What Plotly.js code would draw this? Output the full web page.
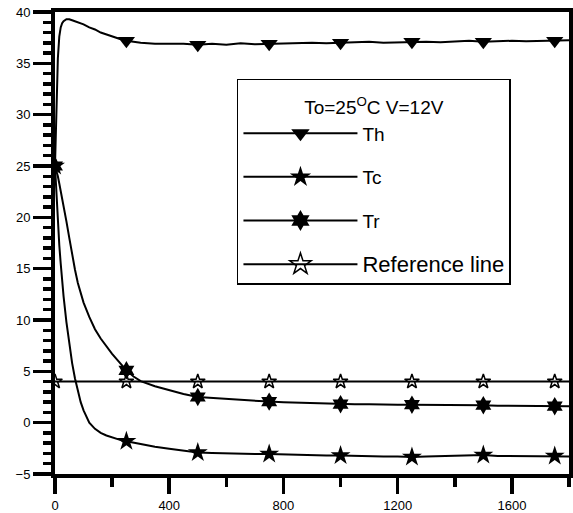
<!DOCTYPE html>
<html>
<head>
<meta charset="utf-8">
<script src="https://cdn.plot.ly/plotly-3.0.1.min.js"></script>
<style>html,body{margin:0;padding:0;background:#fff;}#chart{width:573px;height:513px;}</style>
</head>
<body>
<div id="chart"></div>
<script>
// time axis for the measured curves (s)
var t = [0,5,10,15,20,25,30,40,50,60,70,80,90,100,120,140,160,180,200,225,250,275,300,350,400,450,500,550,600,650,700,750,800,850,900,950,1000,1050,1100,1150,1200,1250,1300,1350,1400,1450,1500,1550,1600,1650,1700,1750,1800];
var Th = [25,31.5,35.5,37.6,38.5,38.9,39.1,39.3,39.3,39.2,39.1,39.0,38.9,38.8,38.5,38.3,38.0,37.8,37.6,37.4,37.2,37.1,37.0,36.9,36.9,36.9,36.8,36.9,36.8,36.95,36.85,36.9,36.9,36.95,37.0,36.95,37.0,37.05,37.1,37.0,37.05,37.1,37.1,37.05,37.1,37.2,37.1,37.15,37.2,37.15,37.2,37.2,37.25];
var Tc = [25,22,19.5,17.3,15.5,13.8,12.3,9.8,7.6,5.8,4.3,3.0,2.0,1.2,0.0,-0.6,-1.0,-1.25,-1.45,-1.65,-1.8,-1.95,-2.1,-2.35,-2.55,-2.75,-2.9,-2.95,-3.0,-3.0,-3.05,-3.05,-3.1,-3.15,-3.15,-3.2,-3.2,-3.25,-3.25,-3.3,-3.3,-3.35,-3.3,-3.25,-3.2,-3.15,-3.15,-3.25,-3.25,-3.3,-3.25,-3.25,-3.3];
var Tr = [25,24.6,24.0,23.3,22.6,21.9,21.2,19.6,18.0,16.3,14.9,13.6,12.6,11.7,10.3,9.1,8.2,7.4,6.7,5.9,5.1,4.5,4.05,3.55,3.15,2.8,2.5,2.4,2.3,2.2,2.1,2.05,2.0,1.95,1.9,1.85,1.8,1.8,1.8,1.75,1.75,1.75,1.75,1.7,1.7,1.7,1.7,1.65,1.65,1.65,1.6,1.6,1.6];
var Tref = 4;

// marker positions (s) and values
var tMark = [0,250,500,750,1000,1250,1500,1750];
var ThMark = [null,37.2,36.8,36.9,37.0,37.1,37.1,37.2];
var TcMark = [25,-1.8,-2.9,-3.05,-3.2,-3.35,-3.15,-3.25];
var TrMark = [25,5.1,2.5,2.05,1.8,1.75,1.7,1.6];
var RefMark = tMark.map(function(){return Tref;});

var legendTitle = '<span style="font-size:19px">To=25<sup>O</sup>C V=12V</span>';
var names = ['Th','Tc','Tr','<span style="font-size:22px">Reference line</span>'];
var symbols = ['triangle-down','star','hexagram','star-open'];
var markSizes = [15,15,14,11];

var black = '#000';
var series = [
  {x:t, y:Th, mx:tMark, my:ThMark},
  {x:t, y:Tc, mx:tMark, my:TcMark},
  {x:t, y:Tr, mx:tMark, my:TrMark},
  {x:[0,1800], y:[Tref,Tref], mx:tMark, my:RefMark}
];

var data = [];
series.forEach(function(s,i){
  data.push({x:s.x, y:s.y, mode:'lines', line:{color:black,width:2}, showlegend:false, legendgroup:'g'+i, hoverinfo:'skip'});
  data.push({x:s.mx, y:s.my, mode:'markers', showlegend:false, legendgroup:'g'+i, hoverinfo:'skip',
    marker:{symbol:symbols[i], size:markSizes[i], color:black, line:{color:black,width:symbols[i]==='star-open'?1.5:0}}});
  data.push({x:[null], y:[null], mode:'lines+markers', name:names[i], legendgroup:'g'+i,
    line:{color:black,width:2},
    marker:{symbol:symbols[i], size:16, color:black, line:{color:black,width:symbols[i]==='star-open'?1.5:0}}});
});

var fam = 'Arial, "Liberation Sans", sans-serif';
var tickFont = {family:fam, size:13, color:black};
var layout = {
  width:573, height:513,
  margin:{l:55, r:4, t:12, b:39},
  paper_bgcolor:'#fff', plot_bgcolor:'#fff',
  showlegend:true,
  xaxis:{range:[0,1800], dtick:400, tick0:0, ticks:'outside', ticklen:16, tickwidth:3.5, tickcolor:black,
    minor:{dtick:200, ticks:'outside', ticklen:9, tickwidth:3.5, tickcolor:black},
    showline:true, linewidth:4, linecolor:black, mirror:true, showgrid:false, zeroline:false,
    tickfont:tickFont},
  yaxis:{range:[-5,40], dtick:5, tick0:0, ticks:'outside', ticklen:18, tickwidth:3.5, tickcolor:black,
    minor:{dtick:1, ticks:'outside', ticklen:8, tickwidth:3.5, tickcolor:black},
    showline:true, linewidth:4, linecolor:black, mirror:true, showgrid:false, zeroline:false,
    tickfont:tickFont},
  legend:{x:0.354, y:0.855, xanchor:'left', yanchor:'top', bgcolor:'#fff', bordercolor:black, borderwidth:1.5,
    title:{text:legendTitle, side:'top center', font:{family:fam, size:26, color:black}},
    font:{family:fam, size:19, color:black},
    itemwidth:114, tracegroupgap:16, traceorder:'grouped'}
};

Plotly.newPlot('chart', data, layout, {displayModeBar:false, staticPlot:true});
</script>
</body>
</html>
